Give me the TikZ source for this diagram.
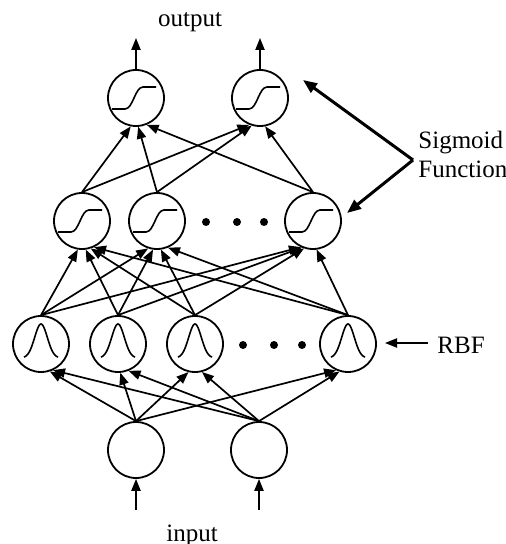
\documentclass[tikz,border=0pt]{standalone}
\usepackage{fontspec}
\setmainfont{Liberation Serif}
\usetikzlibrary{arrows.meta,calc}
\tikzset{
  neuron/.style={circle, draw, line width=0.9pt, minimum size=28pt, inner sep=0pt},
  edge/.style={line width=0.85pt, -{Triangle[length=6pt,width=4.6pt]}},
  bigarr/.style={line width=1.5pt, -{Triangle[length=7pt,width=5.5pt]}},
  lbl/.style={inner sep=0pt, font=\fontsize{12.5}{15}\selectfont},
  curve/.style={line width=0.8pt},
  dot/.style={fill=black}
}
\newcommand{\conn}[2]{%
  \draw[edge] let \p1=(#1.north), \p2=(#2.center),
    \n1={atan2(\y1-\y2,\x1-\x2)}, \n2={-90+0.35*(\n1+90)} in
    (#1.north) -- ($(#2.center)+(\n2:14.4pt)$);}
\newcommand{\sigcurve}[1]{%
  \draw[curve, shift={(#1.center)}] (-24,11) -- (-11,11) .. controls (-3,11) and (-1,-11) .. (7,-11) -- (20,-11);}
\newcommand{\bell}[1]{%
  \draw[curve, shift={(#1.center)}] plot[domain=-17:17, samples=41, smooth] (\x, {14-34*exp(-((\x)*(\x))/80)});}
\begin{document}
\begin{tikzpicture}[x=0.5pt, y=-0.5pt]
\useasboundingbox (0,0) rectangle (506,544);
% output layer
\node[neuron] (o1) at (136,98) {};
\node[neuron] (o2) at (260,98) {};
% hidden sigmoid layer
\node[neuron] (h1) at (82,221) {};
\node[neuron] (h2) at (157,221) {};
\node[neuron] (h3) at (313,221) {};
% RBF layer
\node[neuron] (r1) at (41,344) {};
\node[neuron] (r2) at (118,344) {};
\node[neuron] (r3) at (195,344) {};
\node[neuron] (r4) at (348,344) {};
% input layer
\node[neuron] (i1) at (136,450) {};
\node[neuron] (i2) at (259,450) {};
% activation glyphs
\foreach \n in {o1,o2,h1,h2,h3} {\sigcurve{\n}}
\foreach \n in {r1,r2,r3,r4} {\bell{\n}}
% dots
\foreach \x in {206,237,264} {\fill[dot] (\x,222) circle (2pt);}
\foreach \x in {243,274,302} {\fill[dot] (\x,345) circle (2pt);}
% connections
\foreach \s in {i1,i2} {\foreach \t in {r1,r2,r3,r4} {\conn{\s}{\t}}}
\foreach \s in {r1,r2,r3,r4} {\foreach \t in {h1,h2,h3} {\conn{\s}{\t}}}
\foreach \s in {h1,h2,h3} {\foreach \t in {o1,o2} {\conn{\s}{\t}}}
% outputs and inputs
\coordinate (ot1) at (136,38);
\coordinate (ot2) at (260,38);
\coordinate (ib1) at (136,510);
\coordinate (ib2) at (259,510);
\draw[edge] (o1.north) -- (ot1);
\draw[edge] (o2.north) -- (ot2);
\draw[edge] (ib1) -- (i1.south);
\draw[edge] (ib2) -- (i2.south);
% labels
\node[lbl, anchor=base] (outlbl) at (190,27) {output};
\node[lbl, anchor=base] (inlbl) at (192,541) {input};
\node[lbl, anchor=base west] (sig1) at (418,149) {Sigmoid};
\node[lbl, anchor=base west] (sig2) at (418,178) {Function};
\node[lbl, anchor=base west] (rbf) at (437,353) {RBF};
% annotation arrows
\coordinate (sv) at (413,160);
\coordinate (sA) at (303,80);
\coordinate (sB) at (347,213);
\draw[bigarr] (sv) -- (sA);
\draw[bigarr] (sv) -- (sB);
\coordinate (rbfA) at (428,343);
\coordinate (rbfB) at (385,343);
\draw[edge] (rbfA) -- (rbfB);
\end{tikzpicture}
\end{document}
